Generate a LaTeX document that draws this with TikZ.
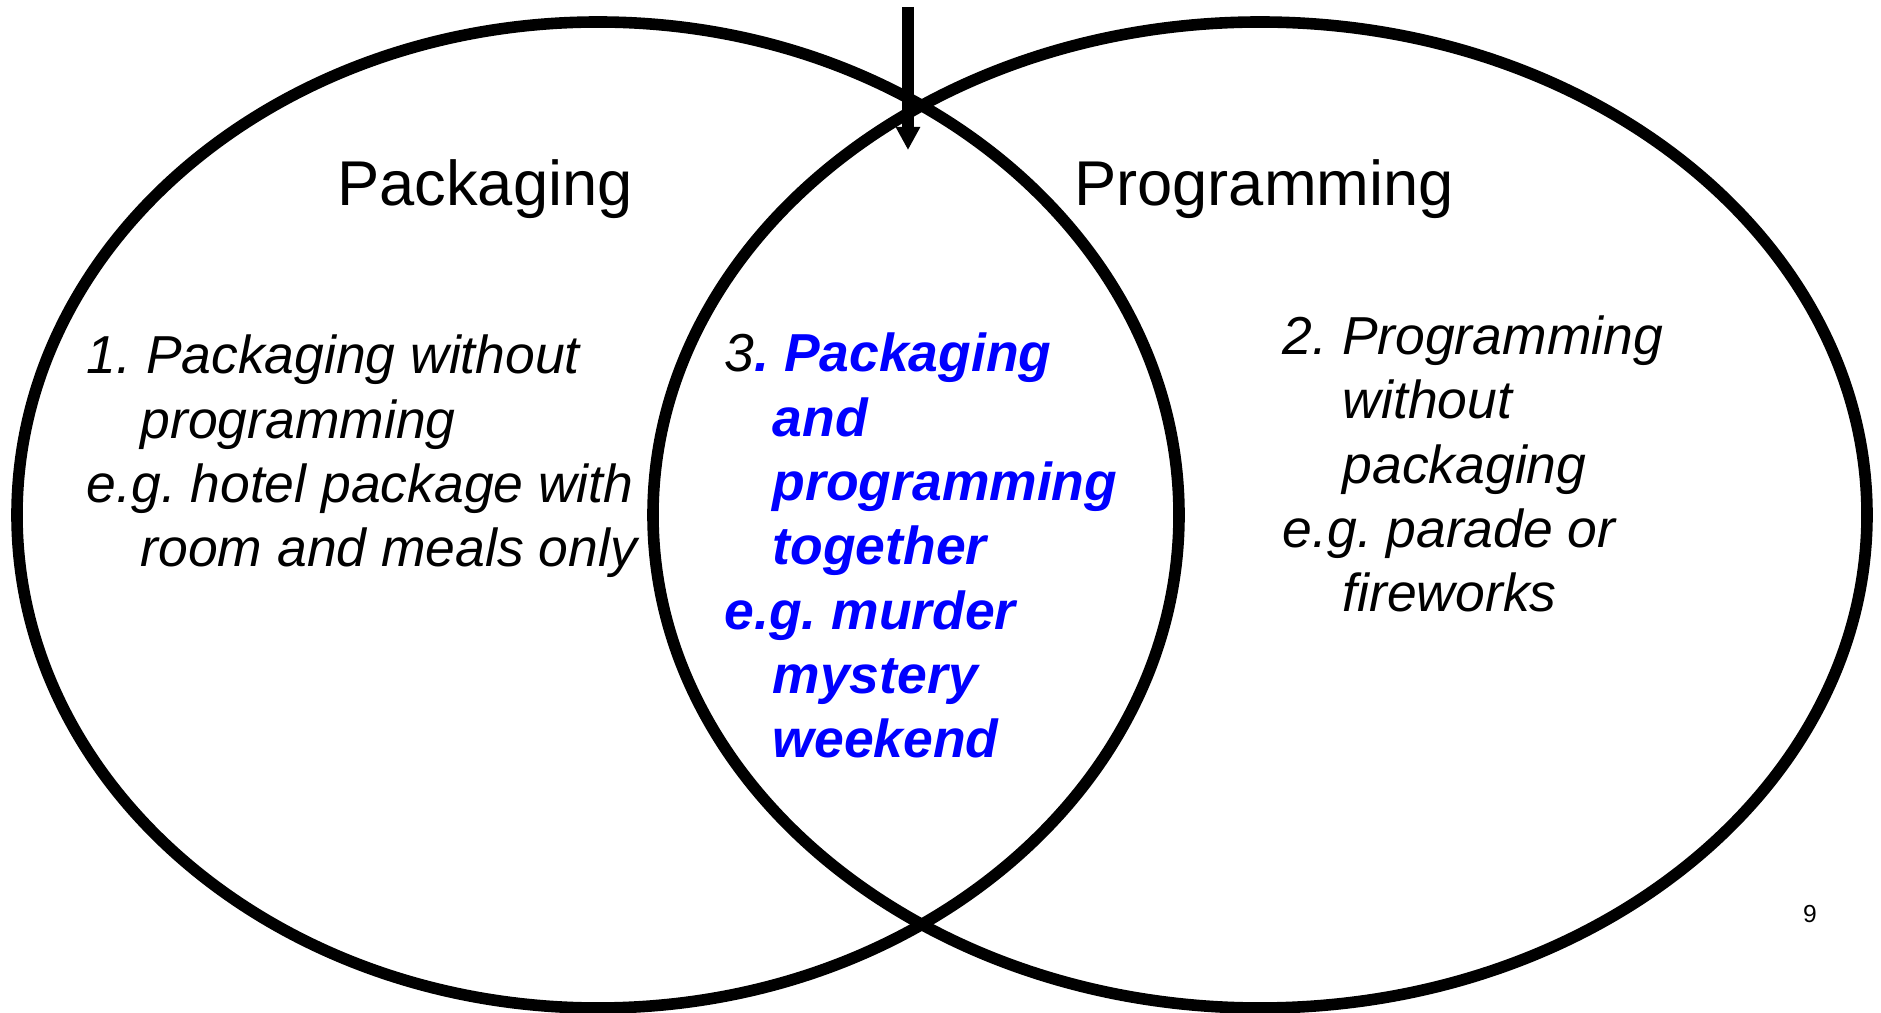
\documentclass[tikz,border=0pt]{standalone}
\usepackage{fontspec}
\setmainfont{Liberation Sans}
\usetikzlibrary{arrows.meta}
\frenchspacing

\begin{document}
\begin{tikzpicture}[
  x=0.01cm, y=-0.01cm,
  ring/.style={draw=black, line width=3.3pt},
  title/.style={anchor=base, inner sep=0pt, font=\fontsize{18}{21.6}\selectfont},
  item/.style={anchor=base west, inner sep=0pt, align=left,
               font=\fontsize{15.2}{18.3}\selectfont\itshape},
  pointer/.style={draw=black, line width=3.4pt,
                  -{Triangle[width=0.23cm, length=0.23cm]}}
]
  \useasboundingbox (0,0) rectangle (1881,1013);
  \clip (0,0) rectangle (1881,1013);

  % the two sets
  \draw[ring] (598,515) ellipse [x radius=581, y radius=493];
  \draw[ring] (1260,515) ellipse [x radius=607, y radius=493];

  \coordinate (top) at (908,7);
  \coordinate (meet) at (908,150);
  \draw[pointer] (top) -- (meet);

  \node[title] (pkgtitle) at (485,206) {Packaging};
  \node[title] (prgtitle) at (1264,206) {Programming};

  % base anchor sits on the last line
  \node[item] (pkgonly) at (86,567)
    {1. Packaging without\\
     \hspace*{0.54cm}programming\\
     e.g. hotel package with\\
     \hspace*{0.54cm}room and meals only};

  \node[item, text=blue, font=\fontsize{15.2}{18.3}\selectfont\bfseries\itshape] (both) at (724,758)
    {{\color{black}\mdseries 3}. Packaging\\
     \hspace*{0.48cm}and\\
     \hspace*{0.48cm}programming\\
     \hspace*{0.48cm}together\\
     e.g. murder\\
     \hspace*{0.48cm}mystery\\
     \hspace*{0.48cm}weekend};

  \node[item] (prgonly) at (1282,612)
    {2. Programming\\
     \hspace*{0.60cm}without\\
     \hspace*{0.60cm}packaging\\
     e.g. parade or\\
     \hspace*{0.60cm}fireworks};

  \node[anchor=base, inner sep=0pt, font=\fontsize{7}{8}\selectfont] (pagenum) at (1810,923) {9};
\end{tikzpicture}
\end{document}
